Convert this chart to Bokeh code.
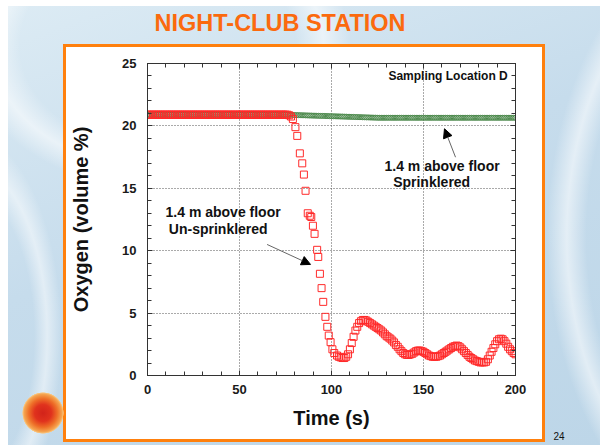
from bokeh.plotting import figure
from bokeh.models import (Range1d, LinearAxis, Label, Arrow, NormalHead, Title,
                          FixedTicker, ColumnDataSource, CustomJSTickFormatter)
from bokeh.embed import file_html
from bokeh.resources import INLINE

# ---------------- data ----------------
x_major_ticks = [0, 50, 100, 150, 200]
x_minor_ticks = [0, 10, 20, 30, 40, 50, 60, 70, 80, 90, 100, 110, 120, 130, 140, 150, 160, 170, 180, 190, 200]
y_major_ticks = [0, 5, 10, 15, 20, 25]
y_minor_ticks = list(range(0, 26))

# Un-sprinklered (red squares)
unspr_time = list(range(0, 80)) + [
    80.4, 81.4, 82.8, 84.1, 85.0, 85.9, 87.1, 88.2, 89.0, 89.9, 90.8, 92.2, 92.8, 93.7,
    94.6, 95.5, 96.7, 97.7, 98.5, 99.5, 100.5, 101.5] + list(range(103, 201))
unspr_o2 = [
    20.9, 20.9, 20.9, 20.9, 20.9, 20.9, 20.9, 20.9, 20.9, 20.9,
    20.9, 20.9, 20.9, 20.9, 20.9, 20.9, 20.9, 20.9, 20.9, 20.9,
    20.9, 20.9, 20.9, 20.9, 20.9, 20.9, 20.9, 20.9, 20.9, 20.9,
    20.9, 20.9, 20.9, 20.9, 20.9, 20.9, 20.9, 20.9, 20.9, 20.9,
    20.9, 20.9, 20.9, 20.9, 20.9, 20.9, 20.9, 20.9, 20.9, 20.9,
    20.9, 20.9, 20.9, 20.9, 20.9, 20.9, 20.9, 20.9, 20.9, 20.9,
    20.9, 20.9, 20.9, 20.9, 20.9, 20.9, 20.9, 20.9, 20.9, 20.9,
    20.9, 20.9, 20.9, 20.9, 20.9, 20.9, 20.9, 20.85, 20.75, 20.55,
    # drop
    19.9, 19.2, 17.8, 17.0, 16.1, 14.8, 13.0, 12.8, 12.7, 12.0, 11.35, 10.07, 9.5, 8.15,
    7.0, 5.9, 4.7, 3.9, 3.2, 2.67, 2.1, 1.8,
    # 103 .. 200
    1.6, 1.5, 1.45, 1.4, 1.4, 1.5, 1.7,
    2.1, 2.6, 3.1, 3.6, 3.9, 4.2, 4.35, 4.45, 4.45, 4.4,
    4.3, 4.2, 4.1, 4.0, 3.9, 3.8, 3.7, 3.6, 3.45, 3.3,
    3.15, 3.05, 2.95, 2.8, 2.65, 2.45, 2.3, 2.1, 1.95, 1.8,
    1.7, 1.65, 1.65, 1.7, 1.75, 1.85, 1.95, 2.0, 2.0, 1.95,
    1.9, 1.8, 1.7, 1.6, 1.55, 1.5, 1.5, 1.5, 1.55, 1.6,
    1.7, 1.8, 1.9, 2.0, 2.1, 2.2, 2.3, 2.35, 2.4, 2.35,
    2.25, 2.1, 1.95, 1.8, 1.65, 1.5, 1.4, 1.3, 1.2, 1.15,
    1.1, 1.05, 1.05, 1.05, 1.1, 1.3, 1.6, 1.9, 2.2, 2.5,
    2.75, 2.9, 2.95, 2.9, 2.75, 2.55, 2.3, 2.1, 1.95, 1.8,
    1.7,
]

# Sprinklered (green circles)
spr_time = list(range(0, 201))
spr_o2 = [
    20.9, 20.9, 20.9, 20.9, 20.9, 20.9, 20.9, 20.9, 20.9, 20.9,
    20.9, 20.9, 20.9, 20.9, 20.9, 20.9, 20.9, 20.9, 20.9, 20.9,
    20.9, 20.9, 20.9, 20.9, 20.9, 20.9, 20.9, 20.9, 20.9, 20.9,
    20.9, 20.9, 20.9, 20.9, 20.9, 20.9, 20.9, 20.9, 20.9, 20.9,
    20.9, 20.9, 20.9, 20.9, 20.9, 20.9, 20.9, 20.9, 20.9, 20.9,
    20.9, 20.9, 20.9, 20.9, 20.9, 20.9, 20.9, 20.9, 20.9, 20.9,
    20.9, 20.9, 20.9, 20.9, 20.9, 20.9, 20.9, 20.9, 20.9, 20.9,
    20.9, 20.9, 20.9, 20.9, 20.9, 20.9, 20.9, 20.9, 20.9, 20.88,
    20.87, 20.87, 20.86, 20.86, 20.85, 20.85, 20.84, 20.84, 20.83, 20.83,
    20.82, 20.82, 20.81, 20.81, 20.8, 20.8, 20.8, 20.79, 20.79, 20.78,
    20.78, 20.77, 20.77, 20.76, 20.76, 20.75, 20.75, 20.74, 20.74, 20.73,
    20.73, 20.72, 20.72, 20.71, 20.71, 20.7, 20.7, 20.69, 20.69, 20.68,
    20.68, 20.67, 20.67, 20.66, 20.66, 20.65, 20.65, 20.65, 20.65, 20.65,
    20.65, 20.65, 20.65, 20.65, 20.65, 20.65, 20.65, 20.65, 20.65, 20.65,
    20.65, 20.65, 20.65, 20.65, 20.65, 20.65, 20.65, 20.65, 20.65, 20.65,
    20.65, 20.65, 20.65, 20.65, 20.65, 20.65, 20.65, 20.65, 20.65, 20.65,
    20.65, 20.65, 20.65, 20.65, 20.65, 20.65, 20.65, 20.65, 20.65, 20.65,
    20.65, 20.65, 20.65, 20.65, 20.65, 20.65, 20.65, 20.65, 20.65, 20.65,
    20.65, 20.65, 20.65, 20.65, 20.65, 20.65, 20.65, 20.65, 20.65, 20.65,
    20.65, 20.65, 20.65, 20.65, 20.65, 20.65, 20.65, 20.65, 20.65, 20.65,
    20.65,
]

# ---------------- figure ----------------
FONT = "Liberation Sans"
W, H = 605, 445

# slide backdrop painted with CSS behind a transparent canvas border
slide_css = ", ".join([
    # logo ball
    "radial-gradient(circle 21px at 43px 413px, #d2231a 0%, #e0321d 40%, #ee6f28 68%, "
    "#f5a550 90%, #f7c98a 97%, rgba(247,201,138,0) 99%) 0 0 / 100% 100% no-repeat",
    # white panel inside orange frame
    "linear-gradient(#ffffff, #ffffff) 66px 47px / 476px 392px no-repeat",
    # orange frame
    "linear-gradient(#ff800d, #ff800d) 63px 44px / 482px 398px no-repeat",
    # swirls
    "radial-gradient(ellipse 230px 170px at 150px 40px, rgba(255,255,255,0) 60%, "
    "rgba(255,255,255,0.55) 72%, rgba(255,255,255,0) 84%) 8px 6px / 592px 439px no-repeat",
    "radial-gradient(ellipse 330px 470px at 770px 230px, rgba(255,255,255,0) 58%, "
    "rgba(255,255,255,0.55) 64%, rgba(255,255,255,0) 70%) 8px 6px / 592px 439px no-repeat",
    "radial-gradient(ellipse 120px 260px at -40px 330px, rgba(255,255,255,0) 55%, "
    "rgba(255,255,255,0.5) 66%, rgba(255,255,255,0) 78%) 8px 6px / 592px 439px no-repeat",
    # slide base
    "linear-gradient(160deg, #dcebf4 0%, #c6dcec 45%, #bdd6e8 100%) 8px 6px / 592px 439px no-repeat",
    "#ffffff",
])

p = figure(width=W, height=H, output_backend="svg", toolbar_location=None, title=None,
           x_range=Range1d(0, 200), y_range=Range1d(0, 25),
           min_border_left=147, min_border_right=90, min_border_top=63, min_border_bottom=70,
           background_fill_color="white", border_fill_color="white", border_fill_alpha=0,
           outline_line_color="#333333", outline_line_width=1)
p.styles = {"background": slide_css}

xt = FixedTicker(ticks=x_major_ticks, minor_ticks=x_minor_ticks)
yt = FixedTicker(ticks=y_major_ticks, minor_ticks=y_minor_ticks)

p.add_layout(LinearAxis(), "above")
p.add_layout(LinearAxis(), "right")

for ax in p.xaxis:
    ax.ticker = xt
for ax in p.yaxis:
    ax.ticker = yt

for ax in p.xaxis + p.yaxis:
    ax.axis_line_color = "#333333"
    ax.major_tick_line_color = "#333333"
    ax.minor_tick_line_color = "#333333"
    ax.major_tick_in = 5
    ax.major_tick_out = 0
    ax.minor_tick_in = 4
    ax.minor_tick_out = 0
    ax.major_label_text_font = FONT
    ax.major_label_text_font_style = "bold"
    ax.major_label_text_font_size = "13px"
    ax.major_label_text_color = "#1a1a1a"
    ax.major_label_standoff = 9
    ax.axis_label_text_font = FONT
    ax.axis_label_text_font_style = "bold"
    ax.axis_label_text_font_size = "20px"
    ax.axis_label_text_color = "#111111"

p.above[0].formatter = CustomJSTickFormatter(code="return ''")
p.right[0].formatter = CustomJSTickFormatter(code="return ''")
p.above[0].major_label_standoff = 0
p.right[0].major_label_standoff = 0

p.below[0].axis_label = "Time (s)"
p.below[0].axis_label_standoff = 10
p.left[0].axis_label = "Oxygen (volume %)"
p.left[0].axis_label_standoff = 27
p.left[0].major_label_standoff = 11

for g in (p.xgrid, p.ygrid):
    g.grid_line_color = "#555555"
    g.grid_line_dash = "1 2"
    g.grid_line_width = 1
p.xgrid.ticker = xt
p.ygrid.ticker = yt

# data
spr_src = ColumnDataSource(dict(t=spr_time, o2=spr_o2))
unspr_src = ColumnDataSource(dict(t=unspr_time, o2=unspr_o2))
p.scatter("t", "o2", source=spr_src, marker="circle", size=5, fill_color=None,
          line_color="#4d8a4d", line_width=1)
p.scatter("t", "o2", source=unspr_src, marker="square", size=7, fill_color=None,
          line_color="#ff2a2a", line_width=1)

# in-plot annotations
def lab(x, y, text, size, align="left"):
    p.add_layout(Label(x=x, y=y, text=text, text_align=align, text_baseline="middle",
                       text_font=FONT, text_font_style="bold",
                       text_font_size=size, text_color="#111111"))

lab(195.8, 23.98, "Sampling Location D", "12px", "right")
lab(128.8, 16.75, "1.4 m above floor", "14px")
lab(133.5, 15.49, "Sprinklered", "14px")
lab(9.8, 13.09, "1.4 m above floor", "14px")
lab(11.6, 11.7, "Un-sprinklered", "14px")

p.add_layout(Arrow(end=NormalHead(size=9, fill_color="black", line_color="black"),
                   x_start=167.4, y_start=17.49, x_end=161.4, y_end=19.77,
                   line_color="#666666", line_width=1))
p.add_layout(Arrow(end=NormalHead(size=9, fill_color="black", line_color="black"),
                   x_start=65.0, y_start=10.5, x_end=88.6, y_end=8.9,
                   line_color="#666666", line_width=1))

# slide title and page number (side-panel titles are drawn outside the frame)
# a blank title acts as a spacer between the frame and the slide heading
p.add_layout(Title(text=" ", standoff=4, text_font=FONT, text_font_size="20px"), "above")
p.add_layout(Title(text="NIGHT-CLUB STATION", align="left", offset=7, standoff=0,
                   text_font=FONT, text_font_style="bold",
                   text_font_size="23.5px", text_color="#fb6a0e"), "above")
p.add_layout(Title(text="24", align="right", offset=-49, standoff=-16,
                   text_font=FONT, text_font_style="normal",
                   text_font_size="10px", text_color="#111111"), "below")

open("out.html", "w").write(file_html(p, INLINE))
